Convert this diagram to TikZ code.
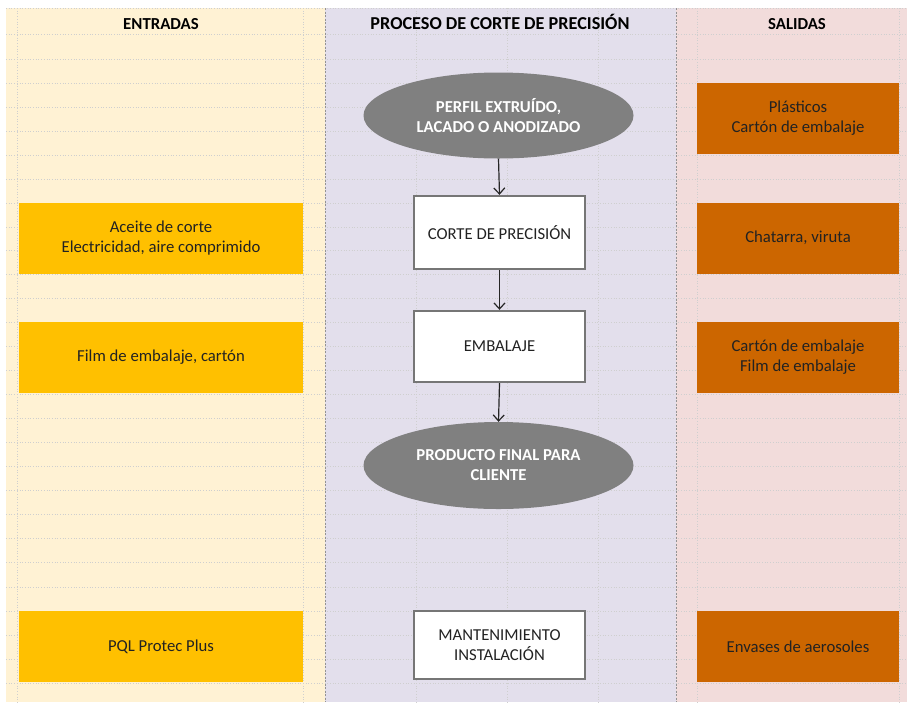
\documentclass[tikz,border=0pt]{standalone}
\usepackage{fontspec}
\setmainfont{Carlito}
\usetikzlibrary{shapes.geometric,arrows.meta}
\definecolor{panelY}{HTML}{FFF2D4}
\definecolor{panelV}{HTML}{E3DFEC}
\definecolor{panelP}{HTML}{F2DCDB}
\definecolor{boxY}{HTML}{FFC000}
\definecolor{boxO}{HTML}{CC6600}
\definecolor{ellG}{HTML}{808080}
\definecolor{gridC}{HTML}{CFCFCF}
\definecolor{borderC}{HTML}{767676}
\definecolor{txtD}{HTML}{222222}
\begin{document}
\begin{tikzpicture}[x=1pt,y=-1pt,
  every node/.style={font=\fontsize{16.7}{20}\selectfont, align=center, inner sep=0pt},
  gridline/.style={draw=gridC, line width=0.7pt, dotted},
  panelborder/.style={draw=gray!85, line width=0.9pt, dash pattern=on 2pt off 1.5pt},
  header/.style={font=\fontsize{16.8}{20}\selectfont\bfseries, text=black},
  bigheader/.style={font=\fontsize{18.2}{20}\selectfont\bfseries, text=black},
  inbox/.style={rectangle, fill=boxY, text=txtD, minimum width=284pt, minimum height=71pt},
  outbox/.style={rectangle, fill=boxO, text=txtD, minimum width=202pt, minimum height=71pt},
  procbox/.style={rectangle, fill=white, draw=borderC, line width=2.4pt, text=txtD, minimum width=171pt},
  procell/.style={ellipse, fill=ellG, text=white, font=\fontsize{16.7}{20}\selectfont\bfseries, minimum width=270pt, minimum height=86pt},
  flow/.style={draw=black!85, line width=1.2pt, -{Straight Barb[length=6pt,width=11pt,line width=1.2pt]}}
]
\useasboundingbox (0,0) rectangle (907,702);
\fill[white] (0,0) rectangle (907,702);
\fill[panelY] (6,8) rectangle (325,702);
\fill[panelV] (325,8) rectangle (676,702);
\fill[panelP] (676,8) rectangle (907,702);
% grid
\foreach \yy in {8,34.5,59,83,107,131,155,179,203,227,250.5,274,298,322,346,370,394,418,442,466,490,514,538,562,587,611,635,659,683}
  \draw[gridline] (6,\yy) -- (907,\yy);
\foreach \xx in {17.5,303,416,507,598,697,899}
  \draw[gridline] (\xx,8) -- (\xx,702);
\draw[panelborder] (325,8) -- (325,702);
\draw[panelborder] (676,8) -- (676,702);
% headers
\node[header] (h1) at (161,24) {ENTRADAS};
\node[bigheader] (h2) at (500,22) {PROCESO DE CORTE DE PRECISIÓN};
\node[header] (h3) at (797,24) {SALIDAS};
% inputs
\node[inbox] (in1) at (161,238) {Aceite de corte\\Electricidad, aire comprimido};
\node[inbox] (in2) at (161,357.5) {Film de embalaje, cartón};
\node[inbox] (in3) at (161,646.5) {PQL Protec Plus};
% outputs
\node[outbox] (out1) at (798,118.5) {Plásticos\\Cartón de embalaje};
\node[outbox] (out2) at (798,238) {Chatarra, viruta};
\node[outbox] (out3) at (798,357.5) {Cartón de embalaje\\Film de embalaje};
\node[outbox] (out4) at (798,646.5) {Envases de aerosoles};
% process
\node[procell] (p1) at (498.5,115.5) {PERFIL EXTRUÍDO,\\LACADO O ANODIZADO};
\node[procbox, minimum height=73pt] (p2) at (499.5,232.5) {CORTE DE PRECISIÓN};
\node[procbox, minimum height=71pt] (p3) at (499.5,346.5) {EMBALAJE};
\node[procell, minimum height=87pt] (p4) at (498.5,465.5) {PRODUCTO FINAL PARA\\CLIENTE};
\node[procbox, minimum height=68pt] (p5) at (499.5,645) {MANTENIMIENTO\\INSTALACIÓN};
% arrows
\draw[flow] (p1.south) -- (p2.north);
\draw[flow] (p2.south) -- (p3.north);
\draw[flow] (p3.south) -- (p4.north);
\end{tikzpicture}
\end{document}
